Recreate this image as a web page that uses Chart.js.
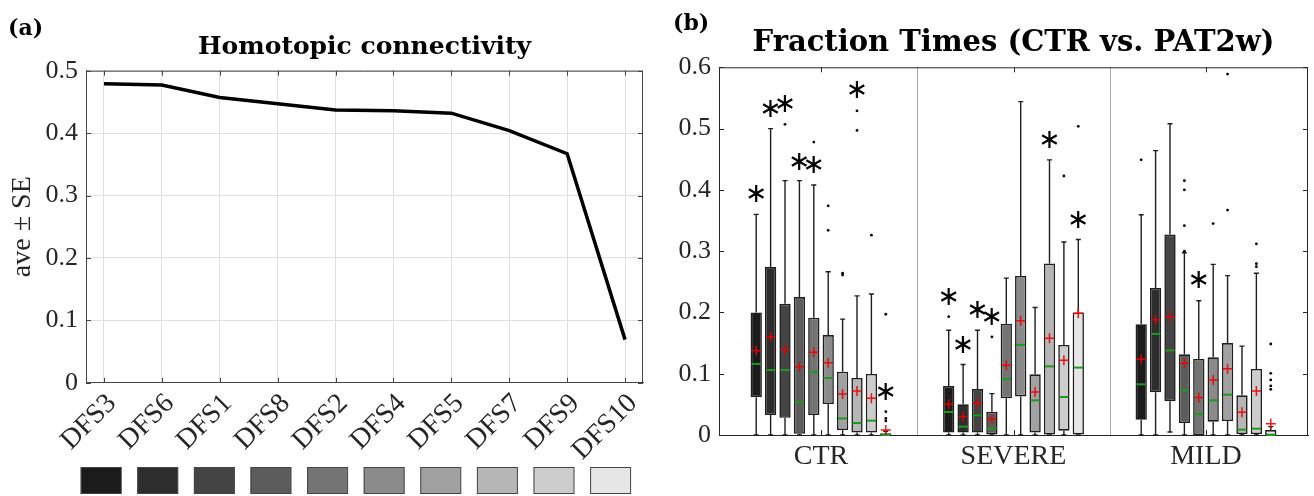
<!DOCTYPE html>
<html><head><meta charset="utf-8">
<script src="https://cdn.jsdelivr.net/npm/chart.js@4"></script>
<style>
html,body{margin:0;padding:0;background:#fff;overflow:hidden}
#p1{position:absolute;left:0;top:0;width:660px;height:496px}
#p2{position:absolute;left:660px;top:0;width:654px;height:496px}
</style></head><body>
<div id="p1"><canvas id="c1" width="660" height="496"></canvas></div>
<div id="p2"><canvas id="c2" width="654" height="496"></canvas></div>
<script>
// ---------- data ----------
const dfsNames = ['DFS3','DFS6','DFS1','DFS8','DFS2','DFS4','DFS5','DFS7','DFS9','DFS10'];
const dfsColors = ['#1b1b1b','#2d2d2d','#444444','#5c5c5c','#747474','#8b8b8b','#a1a1a1','#b6b6b6','#cdcdcd','#e6e6e6'];
const homotopicAve = [0.479,0.477,0.457,0.447,0.437,0.436,0.432,0.404,0.367,0.069];
const leftYTicks = [0,0.1,0.2,0.3,0.4,0.5];
const rightYTicks = [0,0.1,0.2,0.3,0.4,0.5,0.6];
const groupNames = ['CTR','SEVERE','MILD'];

const ctrLow     = [0,0,0,0,0,0,0,0,0,0];
const ctrQ1      = [0.0615,0.0326,0.028,0.002,0.0326,0.0506,0.008,0.004,0.004,0];
const ctrMedian  = [0.116,0.106,0.106,0.054,0.103,0.093,0.027,0.0196,0.0234,0];
const ctrQ3      = [0.200,0.274,0.214,0.225,0.1915,0.163,0.1034,0.093,0.0995,0.003];
const ctrHigh    = [0.360,0.500,0.415,0.415,0.408,0.2665,0.189,0.227,0.230,0.006];
const ctrMean    = [0.138,0.160,0.139,0.1115,0.135,0.118,0.067,0.072,0.060,0.008];
const ctrOutliers= [[],[],[0.507],[],[0.478],[0.374,0.334],[0.264,0.261],[0.529,0.497],[0.326],[0.197,0.038,0.027,0.023]];
const ctrStars   = [0.392,0.530,0.538,0.444,0.439,null,null,0.562,null,0.069];

const sevLow     = [0,0,0,0,0,0,0,0,0,0];
const sevQ1      = [0.004,0.004,0.004,0.001,0.0598,0.063,0.004,0.001,0.007,0.001];
const sevMedian  = [0.0375,0.0136,0.032,0.0103,0.0914,0.147,0.0566,0.112,0.062,0.110];
const sevQ3      = [0.080,0.050,0.075,0.038,0.1817,0.2595,0.099,0.280,0.147,0.200];
const sevHigh    = [0.171,0.115,0.171,0.0675,0.256,0.544,0.208,0.449,0.315,0.319];
const sevMean    = [0.050,0.030,0.052,0.026,0.1137,0.1866,0.070,0.158,0.122,0.1985];
const sevOutliers= [[0.193],[],[],[0.160],[],[],[],[],[0.4226],[0.5037]];
const sevStars   = [0.223,0.145,0.203,0.191,null,null,null,0.480,null,0.349];

const mildLow     = [0,0,0.005,0,0,0,0,0,0,0];
const mildQ1      = [0.025,0.0696,0.055,0.0196,0,0.0218,0.0228,0.0016,0.0016,0];
const mildMedian  = [0.0827,0.165,0.138,0.073,0.034,0.0566,0.0658,0.0087,0.0103,0];
const mildQ3      = [0.1806,0.240,0.327,0.1316,0.124,0.1267,0.150,0.0647,0.1077,0.008];
const mildHigh    = [0.3595,0.464,0.508,0.2975,0.219,0.2785,0.260,0.145,0.264,0.0136];
const mildMean    = [0.1235,0.188,0.193,0.117,0.061,0.0898,0.108,0.037,0.072,0.0185];
const mildOutliers= [[0.449],[],[],[0.415,0.400,0.3416,0.300],[],[0.345],[0.589,0.367],[],[0.312,0.2796,0.2747],[0.1485,0.1006,0.0898,0.080,0.0745]];
const mildStars   = [null,null,null,null,0.251,null,null,null,null,null];

// ---------- helpers ----------
const groupStats = [
  {low:ctrLow, q1:ctrQ1, med:ctrMedian, q3:ctrQ3, high:ctrHigh, mean:ctrMean, out:ctrOutliers, star:ctrStars},
  {low:sevLow, q1:sevQ1, med:sevMedian, q3:sevQ3, high:sevHigh, mean:sevMean, out:sevOutliers, star:sevStars},
  {low:mildLow, q1:mildQ1, med:mildMedian, q3:mildQ3, high:mildHigh, mean:mildMean, out:mildOutliers, star:mildStars}
];
const TXT = '#262626';
const serif = 'Liberation Serif';
const boldSerif = 'DejaVu Serif';

function frameAndTicks(chart, xVals, yVals, len, color) {
  const {ctx, chartArea:a, scales:{x, y}} = chart;
  ctx.save();
  ctx.strokeStyle = color; ctx.lineWidth = 1;
  ctx.beginPath();
  ctx.moveTo(a.left, a.top + 0.5); ctx.lineTo(a.right, a.top + 0.5);
  ctx.moveTo(a.right - 0.5, a.top); ctx.lineTo(a.right - 0.5, a.bottom);
  xVals.forEach(v => {
    const px = Math.round(x.getPixelForValue(v)) + 0.5;
    ctx.moveTo(px, a.bottom); ctx.lineTo(px, a.bottom - len);
    ctx.moveTo(px, a.top); ctx.lineTo(px, a.top + len);
  });
  yVals.forEach(v => {
    const py = Math.round(y.getPixelForValue(v)) + 0.5;
    ctx.moveTo(a.left, py); ctx.lineTo(a.left + len, py);
    ctx.moveTo(a.right, py); ctx.lineTo(a.right - len, py);
  });
  ctx.stroke();
  ctx.restore();
}
function panelLetter(chart, txt, x, y) {
  const ctx = chart.ctx;
  ctx.save();
  ctx.font = 'bold 22px "' + boldSerif + '"';
  ctx.fillStyle = '#000'; ctx.textAlign = 'left'; ctx.textBaseline = 'middle';
  ctx.fillText(txt, x, y);
  ctx.restore();
}

// ---------- left chart ----------
const leftPlugin = {
  id: 'leftDeco',
  afterDraw(chart) {
    frameAndTicks(chart, dfsNames.map((_, i) => i + 1), leftYTicks, 5, '#444');
    const {ctx, chartArea:a} = chart;
    ctx.save();
    dfsColors.forEach((c, i) => {
      const x0 = a.left - 5.3 + i * 56.6;
      ctx.fillStyle = c;
      ctx.fillRect(x0, 467, 40.5, 27);
      ctx.strokeStyle = '#444'; ctx.lineWidth = 1;
      ctx.strokeRect(x0 + 0.5, 467.5, 40, 26);
    });
    ctx.restore();
    panelLetter(chart, '(a)', 8, 29);
  }
};

new Chart(document.getElementById('c1'), {
  type: 'line',
  data: {
    datasets: [{
      label: 'Homotopic connectivity',
      data: homotopicAve.map((v, i) => ({x: i + 1, y: v})),
      borderColor: '#000', borderWidth: 3.5, pointRadius: 0, tension: 0, fill: false
    }]
  },
  options: {
    responsive: false, animation: false, events: [],
    layout: {padding: {left: 0, right: 17, top: 0, bottom: 0}},
    plugins: {
      legend: {display: false}, tooltip: {enabled: false},
      title: {display: true, text: 'Homotopic connectivity', fullSize: false, color: '#000',
        font: {family: boldSerif, size: 25, weight: 'bold'}, padding: {top: 32.5, bottom: 8.2}}
    },
    scales: {
      x: {
        type: 'linear', min: 0.69, max: 10.31,
        afterBuildTicks: s => { s.ticks = dfsNames.map((_, i) => ({value: i + 1})); },
        ticks: {callback: v => dfsNames[Math.round(v) - 1], autoSkip: false, minRotation: 45, maxRotation: 45,
          font: {family: serif, size: 28}, color: TXT, padding: 4.5, labelOffset: 8},
        grid: {color: '#e0e0e0', drawTicks: false},
        border: {color: '#444'},
        afterFit: s => { s.height = 113.3; }
      },
      y: {
        min: 0, max: 0.5,
        afterBuildTicks: s => { s.ticks = leftYTicks.map(v => ({value: v})); },
        ticks: {font: {family: serif, size: 26}, color: TXT, padding: 8},
        grid: {color: '#e0e0e0', drawTicks: false},
        border: {color: '#444'},
        title: {display: true, text: 'ave ± SE', color: TXT, font: {family: serif, size: 28}, padding: {top: 6, bottom: 0}},
        afterFit: s => { s.width = 86; }
      }
    }
  },
  plugins: [leftPlugin]
});

// ---------- right chart ----------
const boxPlugin = {
  id: 'boxDeco',
  beforeDatasetsDraw(chart) {
    const {ctx, chartArea:a, scales:{x, y}} = chart;
    ctx.save();
    ctx.strokeStyle = '#a8a8a8'; ctx.lineWidth = 1;
    ctx.beginPath();
    [1.5, 2.5].forEach(v => {
      const px = Math.round(x.getPixelForValue(v)) + 0.5;
      ctx.moveTo(px, a.top); ctx.lineTo(px, a.bottom);
    });
    ctx.stroke();
    ctx.strokeStyle = '#1e1e1e'; ctx.lineWidth = 1.4;
    groupStats.forEach((st, g) => {
      for (let d = 0; d < dfsNames.length; d++) {
        const bar = chart.getDatasetMeta(d).data[g];
        const cx = bar.x;
        const yl = y.getPixelForValue(st.low[d]), y1 = y.getPixelForValue(st.q1[d]);
        const y3 = y.getPixelForValue(st.q3[d]), yh = y.getPixelForValue(st.high[d]);
        ctx.beginPath();
        ctx.moveTo(cx, yl); ctx.lineTo(cx, y1);
        ctx.moveTo(cx, y3); ctx.lineTo(cx, yh);
        ctx.moveTo(cx - 2.5, yl); ctx.lineTo(cx + 2.5, yl);
        ctx.moveTo(cx - 2.5, yh); ctx.lineTo(cx + 2.5, yh);
        ctx.stroke();
      }
    });
    ctx.restore();
  },
  afterDatasetsDraw(chart) {
    const {ctx, scales:{x, y}} = chart;
    ctx.save();
    groupStats.forEach((st, g) => {
      for (let d = 0; d < dfsNames.length; d++) {
        const bar = chart.getDatasetMeta(d).data[g];
        const cx = bar.x, hw = bar.width / 2;
        // median
        const ym = y.getPixelForValue(st.med[d]);
        ctx.strokeStyle = '#1f9a1f'; ctx.lineWidth = 2;
        ctx.beginPath(); ctx.moveTo(cx - hw + 1, ym); ctx.lineTo(cx + hw - 1, ym); ctx.stroke();
        // mean
        const yMean = y.getPixelForValue(st.mean[d]);
        ctx.strokeStyle = 'rgba(235,0,0,0.9)'; ctx.lineWidth = 1.5;
        ctx.beginPath();
        ctx.moveTo(cx - 5, yMean); ctx.lineTo(cx + 5, yMean);
        ctx.moveTo(cx, yMean - 5); ctx.lineTo(cx, yMean + 5);
        ctx.stroke();
        // outliers
        ctx.fillStyle = '#000';
        st.out[d].forEach(v => {
          ctx.beginPath(); ctx.arc(cx, y.getPixelForValue(v), 1.4, 0, Math.PI * 2); ctx.fill();
        });
        // significance stars
        if (st.star[d] !== null) {
          ctx.font = '27px "DejaVu Sans"';
          ctx.textAlign = 'center'; ctx.textBaseline = 'middle';
          ctx.fillText('\u2217', cx, y.getPixelForValue(st.star[d]));
        }
      }
    });
    ctx.restore();
  },
  afterDraw(chart) {
    frameAndTicks(chart, [1, 2, 3], rightYTicks, 5, TXT);
    panelLetter(chart, '(b)', 13, 24);
  }
};

new Chart(document.getElementById('c2'), {
  type: 'bar',
  data: {
    datasets: dfsNames.map((name, d) => ({
      label: name,
      data: groupStats.map((st, g) => ({x: g + 1, y: [st.q1[d], st.q3[d]]})),
      backgroundColor: dfsColors[d], borderColor: '#1e1e1e', borderWidth: 1.6, borderSkipped: false,
      categoryPercentage: 0.748, barPercentage: 0.785
    }))
  },
  options: {
    responsive: false, animation: false, events: [],
    layout: {padding: {left: 0, right: 6, top: 0, bottom: 0}},
    plugins: {
      legend: {display: false}, tooltip: {enabled: false},
      title: {display: true, text: 'Fraction Times (CTR vs. PAT2w)', fullSize: false, color: '#000',
        font: {family: boldSerif, size: 29, weight: 'bold'}, padding: {top: 26.1, bottom: 6.4}}
    },
    scales: {
      x: {
        type: 'linear', min: 0.47, max: 3.53, offset: false,
        afterBuildTicks: s => { s.ticks = groupNames.map((_, i) => ({value: i + 1})); },
        ticks: {callback: v => groupNames[Math.round(v) - 1], autoSkip: false, minRotation: 0, maxRotation: 0,
          font: {family: serif, size: 28}, color: TXT, padding: 5},
        grid: {display: false, offset: false, drawTicks: false},
        border: {display: true, color: TXT},
        afterFit: s => { s.height = 61; }
      },
      y: {
        min: 0, max: 0.6,
        afterBuildTicks: s => { s.ticks = rightYTicks.map(v => ({value: v})); },
        ticks: {font: {family: serif, size: 26}, color: TXT, padding: 8},
        grid: {display: false, drawTicks: false},
        border: {display: true, color: TXT},
        afterFit: s => { s.width = 59; }
      }
    }
  },
  plugins: [boxPlugin]
});
</script>
</body></html>
